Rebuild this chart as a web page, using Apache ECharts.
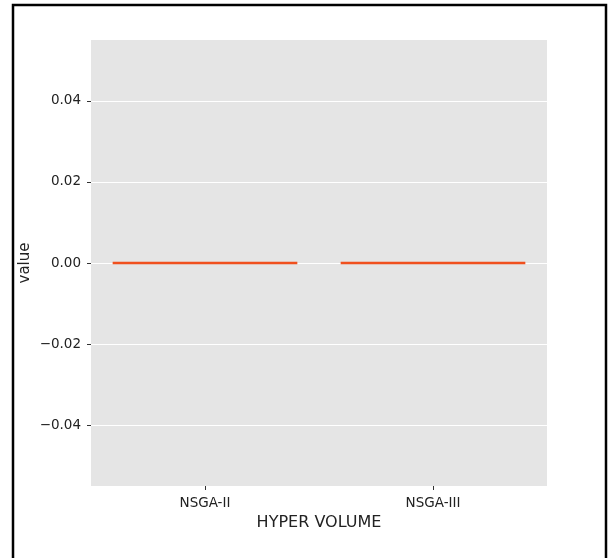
<!DOCTYPE html>
<html><head><meta charset="utf-8">
<script src="https://cdn.jsdelivr.net/npm/echarts@6/dist/echarts.min.js"></script>
<style>html,body{margin:0;padding:0;background:#fff}#c{width:609px;height:558px}</style>
</head><body><div id="c"></div>
<script>
const categories = ['NSGA-II', 'NSGA-III'];
// [min, Q1, median, Q3, max] for each algorithm (all values are zero)
const boxValues = [
  [0, 0, 0, 0, 0],
  [0, 0, 0, 0, 0]
];
const yTicks = [-0.04, -0.02, 0.00, 0.02, 0.04];
const yMin = -0.055, yMax = 0.055;

const chart = echarts.init(document.getElementById('c'), null, {renderer: 'canvas'});
const font = 'DejaVu Sans';
chart.setOption({
  animation: false,
  backgroundColor: '#fff',
  graphic: [{
    type: 'rect', shape: {x: 13, y: 5, width: 593, height: 580},
    style: {fill: 'none', stroke: '#000', lineWidth: 2.5}, z: 100
  }],
  grid: {left: 91, right: 62, top: 40, bottom: 72, show: true, backgroundColor: '#E5E5E5', borderWidth: 0},
  xAxis: {
    type: 'category', data: categories, boundaryGap: true,
    name: 'HYPER VOLUME', nameLocation: 'middle', nameGap: 29,
    nameTextStyle: {fontFamily: font, fontSize: 16, color: '#222'},
    axisLine: {show: false, onZero: false},
    axisTick: {show: true, alignWithLabel: true, length: 4, lineStyle: {color: '#333'}},
    axisLabel: {fontFamily: font, fontSize: 13.5, color: '#222', margin: 10},
    splitLine: {show: false}
  },
  yAxis: {
    type: 'value', min: yMin, max: yMax,
    name: 'value', nameLocation: 'middle', nameGap: 58, nameMoveOverlap: false,
    nameTextStyle: {fontFamily: font, fontSize: 15, color: '#222'},
    axisLine: {show: false},
    axisTick: {show: true, length: 4, lineStyle: {color: '#333'}, customValues: yTicks},
    axisLabel: {fontFamily: font, fontSize: 13.5, color: '#222', margin: 10, customValues: yTicks,
      formatter: v => v.toFixed(2).replace('-', '\u2212')},
    splitLine: {show: true, lineStyle: {color: '#fff', width: 1}}
  },
  series: [{
    type: 'boxplot', data: boxValues, boxWidth: ['81%', '81%'],
    itemStyle: {color: '#F0501E', borderColor: '#F0501E', borderWidth: 2.5}
  }]
});
</script></body></html>
